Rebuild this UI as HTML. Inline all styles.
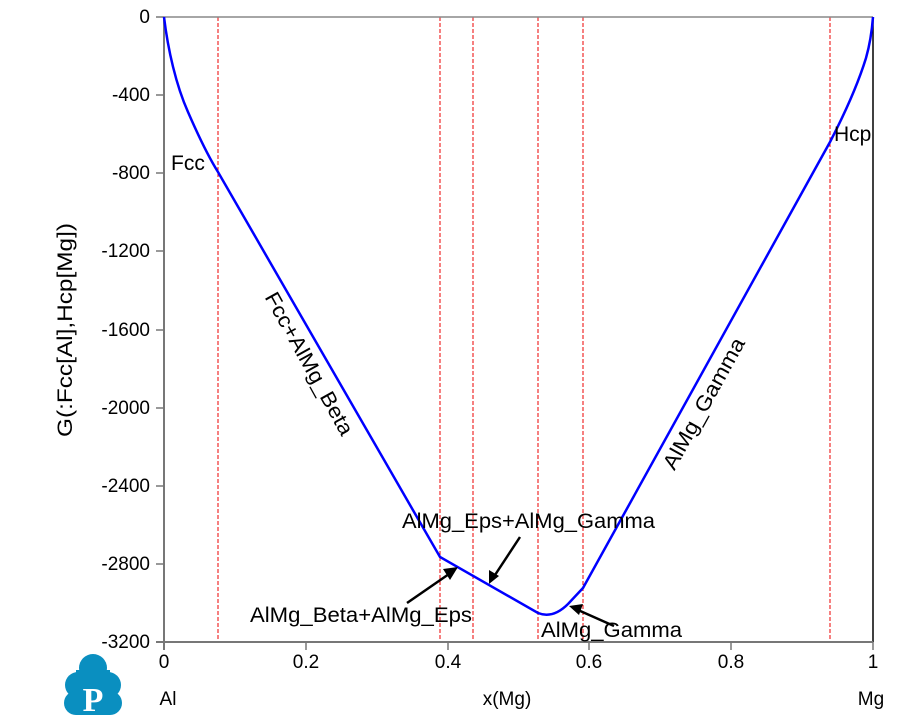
<!DOCTYPE html>
<html><head><style>body{margin:0;background:#fff}svg{display:block}text{font-family:"Liberation Sans",sans-serif;font-size:19px;fill:#000}.a{font-size:21px}</style></head>
<body>
<svg width="922" height="720" viewBox="0 0 922 720">
<g stroke="#e00" stroke-width="1" stroke-dasharray="4,2">
<line x1="218" y1="17" x2="218" y2="642"/><line x1="440" y1="17" x2="440" y2="642"/><line x1="473" y1="17" x2="473" y2="642"/><line x1="538" y1="17" x2="538" y2="642"/><line x1="583" y1="17" x2="583" y2="642"/><line x1="830" y1="17" x2="830" y2="642"/>
</g>
<line x1="164" y1="17" x2="873" y2="17" stroke="#888" stroke-width="1.5"/>
<line x1="873" y1="17" x2="873" y2="642" stroke="#000" stroke-width="1.5"/>
<line x1="164" y1="17" x2="164" y2="650" stroke="#777" stroke-width="2"/>
<line x1="156" y1="642" x2="873" y2="642" stroke="#777" stroke-width="2"/>
<g stroke="#777" stroke-width="1.5">
<line x1="156" y1="17" x2="164" y2="17"/><line x1="156" y1="95" x2="164" y2="95"/><line x1="156" y1="173" x2="164" y2="173"/><line x1="156" y1="251" x2="164" y2="251"/><line x1="156" y1="330" x2="164" y2="330"/><line x1="156" y1="408" x2="164" y2="408"/><line x1="156" y1="486" x2="164" y2="486"/><line x1="156" y1="564" x2="164" y2="564"/>
<line x1="306" y1="642" x2="306" y2="650"/><line x1="448" y1="642" x2="448" y2="650"/><line x1="589" y1="642" x2="589" y2="650"/><line x1="731" y1="642" x2="731" y2="650"/><line x1="873" y1="642" x2="873" y2="650"/>
</g>
<g text-anchor="end">
<text x="150" y="23">0</text><text x="150" y="101">-400</text><text x="150" y="179">-800</text><text x="150" y="257">-1200</text><text x="150" y="336">-1600</text><text x="150" y="414">-2000</text><text x="150" y="492">-2400</text><text x="150" y="570">-2800</text><text x="150" y="648">-3200</text>
</g>
<g text-anchor="middle">
<text x="164" y="668">0</text><text x="306" y="668">0.2</text><text x="448" y="668">0.4</text><text x="589" y="668">0.6</text><text x="731" y="668">0.8</text><text x="873" y="668">1</text>
<text x="168" y="705">Al</text><text x="507" y="705">x(Mg)</text><text x="871" y="705">Mg</text>
</g>
<text class="a" transform="translate(72,330) rotate(-90)" text-anchor="middle" textLength="214" lengthAdjust="spacingAndGlyphs">G(:Fcc[Al],Hcp[Mg])</text>
<path d="M164,17 C168,50 176,85 188,112 C198,135 208,156 218,172 L440,557 L538,613 C548,617 558,614 568,604 L583,588 L830,142 C845,113 858,84 866,58 C870,44 872,30 873,17" fill="none" stroke="#00f" stroke-width="2.5"/>
<text class="a" x="171" y="170">Fcc</text>
<text class="a" x="834" y="141">Hcp</text>
<text class="a" transform="translate(303,367) rotate(61)" text-anchor="middle" textLength="160" lengthAdjust="spacingAndGlyphs">Fcc+AlMg_Beta</text>
<text class="a" transform="translate(710,407) rotate(-61)" text-anchor="middle" textLength="147" lengthAdjust="spacingAndGlyphs">AlMg_Gamma</text>
<text class="a" x="402" y="528" textLength="253" lengthAdjust="spacingAndGlyphs">AlMg_Eps+AlMg_Gamma</text>
<text class="a" x="250" y="622" textLength="222" lengthAdjust="spacingAndGlyphs">AlMg_Beta+AlMg_Eps</text>
<text class="a" x="541" y="637" textLength="141" lengthAdjust="spacingAndGlyphs">AlMg_Gamma</text>
<g stroke="#000" stroke-width="2.5" fill="#000">
<line x1="407" y1="603" x2="449" y2="574"/><polygon points="458,567 443,569 450,580" stroke="none"/>
<line x1="520" y1="537" x2="495" y2="575"/><polygon points="489,584 489,570 499,576" stroke="none"/>
<line x1="614" y1="626" x2="578" y2="610"/><polygon points="569,606 583,604 579,615" stroke="none"/>
</g>
<g fill="#0a8fc0">
<circle cx="93" cy="668" r="14"/><circle cx="78" cy="685" r="13"/><circle cx="108" cy="685" r="13"/><circle cx="76" cy="703" r="12"/><circle cx="110" cy="703" r="12"/><rect x="76" y="670" width="34" height="45"/>
</g>
<text x="93" y="711" text-anchor="middle" style="font-family:'Liberation Serif',serif;font-weight:bold;font-size:34px;fill:#fff">P</text>
</svg>
</body></html>
